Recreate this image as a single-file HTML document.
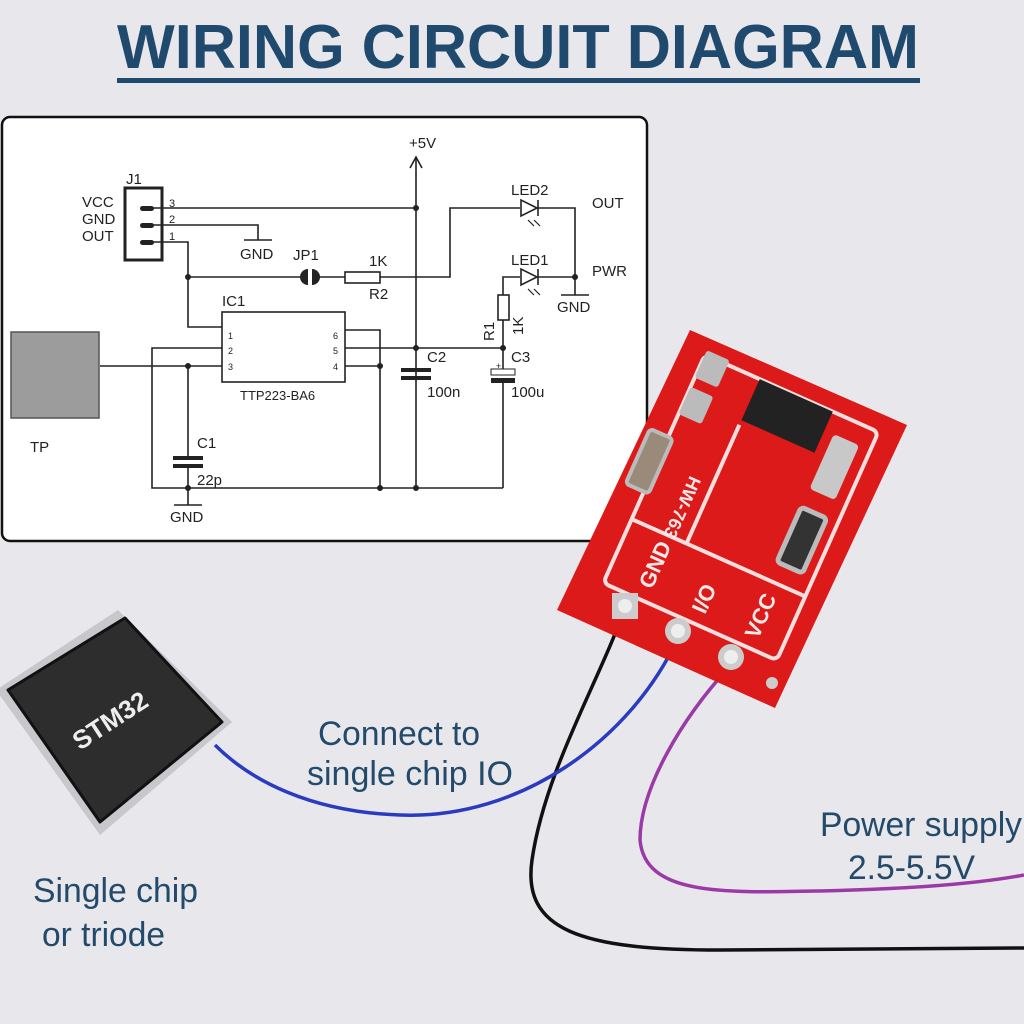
<!DOCTYPE html>
<html><head><meta charset="utf-8"><style>
html,body{margin:0;padding:0;background:#e8e8ec;}
svg{display:block;font-family:"Liberation Sans",Arial,sans-serif;}
</style></head><body>
<svg width="1024" height="1024" viewBox="0 0 1024 1024" xmlns="http://www.w3.org/2000/svg">
<rect width="1024" height="1024" fill="#e8e8ec"/>
<text x="117" y="68" font-size="62" font-weight="bold" fill="#1f4a6e" textLength="802" lengthAdjust="spacingAndGlyphs">WIRING CIRCUIT DIAGRAM</text>
<rect x="117" y="78" width="803" height="5" fill="#1f4a6e"/>

<rect x="2" y="117" width="645" height="424" rx="8" fill="#fff" stroke="#111" stroke-width="2.5"/>
<g stroke="#222" stroke-width="1.6" fill="none">
  <line x1="416" y1="157" x2="416" y2="488"/>
  <polyline points="410,168 416,157 422,168"/>
  <rect x="125" y="188" width="37" height="72" stroke-width="3"/>
  <line x1="147" y1="208" x2="416" y2="208"/>
  <polyline points="147,225 258,225 258,240"/>
  <line x1="244" y1="240" x2="272" y2="240"/>
  <polyline points="147,242 188,242 188,327 222,327"/>
  <polyline points="188,277 302,277"/>
  <polyline points="318,277 345,277"/>
  <rect x="345" y="272" width="35" height="11"/>
  <polyline points="380,277 450,277 450,208 520,208"/>
  <polyline points="538,208 575,208 575,277"/>
  <polyline points="503,348 503,320"/>
  <rect x="498" y="295" width="11" height="25"/>
  <polyline points="503,295 503,277 520,277"/>
  <line x1="538" y1="277" x2="575" y2="277"/>
  <polyline points="575,277 575,295"/>
  <line x1="561" y1="295" x2="589" y2="295"/>
  <rect x="222" y="312" width="123" height="70"/>
  <polyline points="222,348 152,348 152,488 503,488"/>
  <polyline points="100,366 222,366"/>
  <polyline points="345,330 380,330 380,488"/>
  <line x1="345" y1="348" x2="503" y2="348"/>
  <line x1="345" y1="366" x2="380" y2="366"/>
  <line x1="503" y1="348" x2="503" y2="372"/>
  <line x1="503" y1="380" x2="503" y2="488"/>
  <line x1="188" y1="366" x2="188" y2="458"/>
  <line x1="188" y1="466" x2="188" y2="505"/>
  <line x1="174" y1="505" x2="202" y2="505"/>
</g>
<g fill="#222">
  <rect x="140" y="206" width="14" height="5" rx="2.5"/>
  <rect x="140" y="223" width="14" height="5" rx="2.5"/>
  <rect x="140" y="240" width="14" height="5" rx="2.5"/>
  <path d="M308,269 A8,8 0 0 0 308,285 Z"/>
  <path d="M312,269 A8,8 0 0 1 312,285 Z"/>
  <rect x="173" y="456" width="30" height="4"/>
  <rect x="173" y="464" width="30" height="4"/>
  <rect x="401" y="368" width="30" height="4"/>
  <rect x="401" y="376" width="30" height="4"/>
  <rect x="491" y="378" width="24" height="5"/>
  <circle cx="416" cy="208" r="3"/><circle cx="188" cy="277" r="3"/>
  <circle cx="575" cy="277" r="3"/><circle cx="416" cy="348" r="3"/>
  <circle cx="503" cy="348" r="3"/><circle cx="380" cy="366" r="3"/>
  <circle cx="188" cy="366" r="3"/><circle cx="188" cy="488" r="3"/>
  <circle cx="380" cy="488" r="3"/><circle cx="416" cy="488" r="3"/>
</g>
<rect x="491" y="369" width="24" height="6" fill="#fff" stroke="#222" stroke-width="1"/>
<g fill="#fff" stroke="#222" stroke-width="1.6">
  <polygon points="521,200 521,216 537,208"/>
  <polygon points="521,269 521,285 537,277"/>
  <line x1="538" y1="200" x2="538" y2="216"/>
  <line x1="538" y1="269" x2="538" y2="285"/>
</g>
<g stroke="#222" stroke-width="1.2">
  <line x1="528" y1="220" x2="534" y2="226"/><line x1="534" y1="220" x2="540" y2="226"/>
  <line x1="528" y1="289" x2="534" y2="295"/><line x1="534" y1="289" x2="540" y2="295"/>
</g>
<rect x="11" y="332" width="88" height="86" fill="#9c9c9c" stroke="#555" stroke-width="1.5"/>
<g font-size="15" fill="#222">
  <text x="409" y="148">+5V</text>
  <text x="126" y="184">J1</text>
  <text x="82" y="207">VCC</text><text x="82" y="224">GND</text><text x="82" y="241">OUT</text>
  <text x="169" y="207" font-size="11">3</text><text x="169" y="223" font-size="11">2</text><text x="169" y="240" font-size="11">1</text>
  <text x="240" y="259">GND</text>
  <text x="293" y="260">JP1</text>
  <text x="369" y="266">1K</text><text x="369" y="299">R2</text>
  <text x="511" y="195">LED2</text><text x="511" y="265">LED1</text>
  <text x="592" y="208">OUT</text><text x="592" y="276">PWR</text>
  <text x="557" y="312">GND</text>
  <text x="222" y="306">IC1</text>
  <text x="240" y="400" font-size="13">TTP223-BA6</text>
  <text x="427" y="362">C2</text><text x="511" y="362">C3</text>
  <text x="427" y="397">100n</text><text x="511" y="397">100u</text>
  <text x="197" y="448">C1</text><text x="197" y="485">22p</text>
  <text x="170" y="522">GND</text>
  <text x="30" y="452">TP</text>
  <text x="494" y="341" transform="rotate(-90 494 341)">R1</text>
  <text x="523" y="335" transform="rotate(-90 523 335)">1K</text>
  <text x="228" y="339" font-size="9">1</text><text x="228" y="354" font-size="9">2</text><text x="228" y="370" font-size="9">3</text>
  <text x="333" y="339" font-size="9">6</text><text x="333" y="354" font-size="9">5</text><text x="333" y="370" font-size="9">4</text>
  <text x="496" y="369" font-size="9">+</text>
</g>

<path d="M624,610 C600,680 545,770 532,860 C522,930 580,950 720,950 L1024,948" stroke="#111" stroke-width="3.5" fill="none"/>
<path d="M677,640 C630,740 520,820 400,815 C310,812 250,780 215,745" stroke="#2a3bc0" stroke-width="3.5" fill="none"/>
<path d="M731,665 C680,720 640,790 640,840 C645,895 720,893 820,891 C900,889 970,885 1024,875" stroke="#9b3aa6" stroke-width="3.5" fill="none"/>

<polygon points="118,610 232,722 100,835 -4,690" fill="#c8c8cc"/>
<polygon points="125,618 222,722 100,822 8,690" fill="#2d2d2d" stroke="#111" stroke-width="3" stroke-linejoin="round"/>
<text x="115" y="728" font-size="26" font-weight="bold" fill="#eee" text-anchor="middle" transform="rotate(-33 115 728)">STM32</text>

<polygon points="690,330 907,425 775,708 557,610" fill="#dd1a1a"/>
<g transform="rotate(24 732 520)" fill="none" stroke="#f4dede" stroke-width="4">
  <rect x="640" y="380" width="190" height="250" rx="6"/>
  <line x1="640" y1="560" x2="830" y2="560"/>
  <line x1="700" y1="430" x2="700" y2="560"/>
</g>
<g transform="rotate(24 732 520)">
  <rect x="700" y="380" width="80" height="45" fill="#222"/>
  <rect x="790" y="400" width="28" height="60" rx="4" fill="#c8c8c8"/>
  <rect x="790" y="480" width="28" height="60" rx="4" fill="#333" stroke="#bbb" stroke-width="5"/>
  <rect x="620" y="470" width="25" height="60" rx="4" fill="#9a8a7a" stroke="#bbb" stroke-width="4"/>
  <rect x="640" y="375" width="25" height="30" rx="3" fill="#bbb"/>
  <rect x="640" y="415" width="25" height="30" rx="3" fill="#bbb"/>
</g>
<g font-size="22" font-weight="bold" fill="#f4e8e8">
  <text x="652" y="590" transform="rotate(-66 652 590)">GND</text>
  <text x="705" y="615" transform="rotate(-66 705 615)">I/O</text>
  <text x="758" y="640" transform="rotate(-66 758 640)">VCC</text>
  <text x="690" y="475" transform="rotate(114 690 475)" font-size="18">HW-763</text>
</g>
<rect x="612" y="593" width="26" height="26" fill="#ccc"/>
<circle cx="625" cy="606" r="7" fill="#eee"/>
<circle cx="678" cy="631" r="13" fill="#ccc"/><circle cx="678" cy="631" r="7" fill="#eee"/>
<circle cx="731" cy="657" r="13" fill="#ccc"/><circle cx="731" cy="657" r="7" fill="#eee"/>
<circle cx="772" cy="683" r="6" fill="#ccc"/>

<g font-size="34" fill="#234a6a">
  <text x="318" y="745" textLength="162" lengthAdjust="spacingAndGlyphs">Connect to</text>
  <text x="307" y="785" textLength="206" lengthAdjust="spacingAndGlyphs">single chip IO</text>
  <text x="820" y="836" textLength="202" lengthAdjust="spacingAndGlyphs">Power supply</text>
  <text x="848" y="879" textLength="127" lengthAdjust="spacingAndGlyphs">2.5-5.5V</text>
  <text x="33" y="902" textLength="165" lengthAdjust="spacingAndGlyphs">Single chip</text>
  <text x="42" y="946" textLength="123" lengthAdjust="spacingAndGlyphs">or triode</text>
</g>
</svg>
</body></html>
